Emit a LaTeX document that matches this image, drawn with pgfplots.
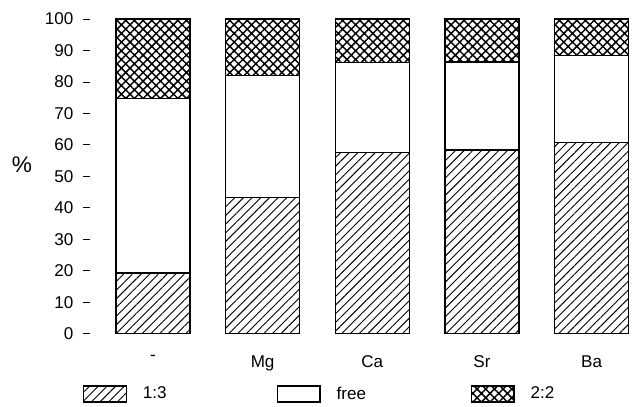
\documentclass[border=0pt]{standalone}
\usepackage{fontspec}
\setmainfont{Liberation Sans}
\usepackage{pgfplots}
\pgfplotsset{compat=1.18}
\usetikzlibrary{patterns.meta}

% shares in %, bottom to top
\pgfplotstableread{
x  one  free  two
0  19.3 55.5  25.2
1  43.3 38.7  18.0
2  57.5 28.6  13.9
3  58.4 27.9  13.7
4  60.7 27.7  11.6
}\shares

\tikzset{
  hatchA/.style={pattern={Lines[angle=45,distance=4.6pt,line width=0.7pt]}},
  hatchB/.style={pattern={Hatch[angle=45,distance=4.6pt,line width=1.1pt]}},
}

\begin{document}
\begin{tikzpicture}
\begin{axis}[
    width=405pt, height=236pt, scale only axis,
    ybar stacked, bar width=55.5pt,
    xmin=-0.574, xmax=4.35,
    ymin=0, ymax=100,
    clip=false,
    axis line style={draw=none},
    xtick=data, xticklabels={-,Mg,Ca,Sr,Ba},
    xtick style={draw=none},
    xticklabel style={yshift=-8pt},
    ytick={0,10,...,100},
    ytick pos=left,
    tick align=outside,
    ytick style={black, line width=0.6pt},
    major tick length=5pt,
    yticklabel style={xshift=-4pt},
    /pgf/number format/assume math mode=true,
    tick label style={font=\fontsize{12.8}{14}\selectfont},
    legend columns=3,
    legend style={draw=none, at={(rel axis cs:-0.021,-0.151)}, anchor=north west,
        font=\fontsize{12.8}{14}\selectfont,
        /tikz/every odd column/.append style={column sep=10pt},
        /tikz/every even column/.append style={column sep=0pt}},
    legend image code/.code={\draw[#1, line width=0.9pt] (0pt,-6pt) rectangle (32pt,6pt);},
]
\addplot[draw=black, line width=1pt, hatchA] table[x=x, y=one] {\shares};
\addplot[draw=black, line width=1pt, fill=white] table[x=x, y=free] {\shares};
\addplot[draw=black, line width=1pt, hatchB] table[x=x, y=two] {\shares};
\legend{\makebox[98.5pt][l]{1:3},\makebox[98.5pt][l]{free},\makebox[30pt][l]{2:2}}
\node[font=\fontsize{17}{19}\selectfont] at (rel axis cs:-0.126,0.537) {\%};
\path (rel axis cs:-0.1667,-0.2222) rectangle (rel axis cs:1.0037,1.0603);
\end{axis}
\end{tikzpicture}
\end{document}
